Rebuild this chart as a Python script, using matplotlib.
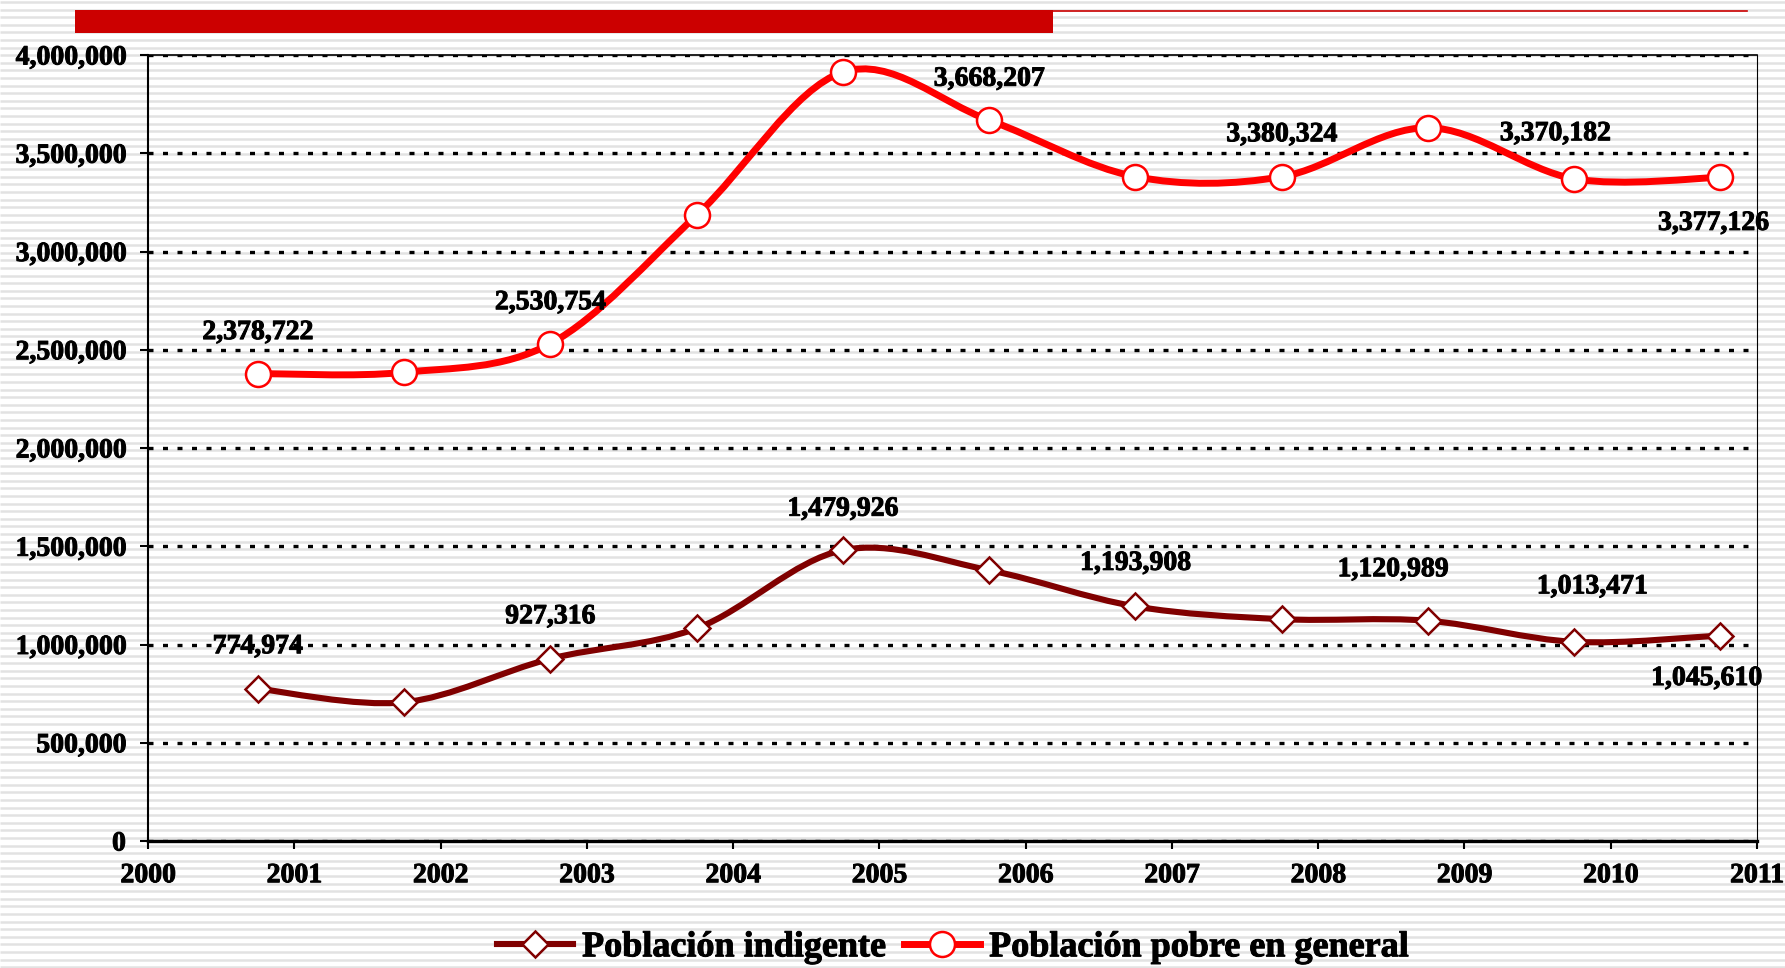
import matplotlib
matplotlib.use("Agg")
import matplotlib.pyplot as plt
import matplotlib.patheffects as pe
import numpy as np
from matplotlib.path import Path
from matplotlib.patches import PathPatch, Rectangle
from matplotlib.lines import Line2D
from matplotlib.ticker import FuncFormatter

years = [2000.75, 2001.75, 2002.75, 2003.75, 2004.75, 2005.75,
         2006.75, 2007.75, 2008.75, 2009.75, 2010.75]
pobre = [2378722, 2385000, 2530754, 3184000, 3913000, 3668207,
         3381000, 3380324, 3630000, 3370182, 3377126]
indigente = [774974, 706000, 927316, 1082000, 1479926, 1378000,
             1193908, 1129000, 1120989, 1013471, 1045610]
# (index, text, offset in px) for labelled points
pobre_labels = [(0, "2,378,722", (0, 41)), (2, "2,530,754", (0, 41)),
                (5, "3,668,207", (0, 41)), (7, "3,380,324", (0, 42)),
                (9, "3,370,182", (-19, 45)), (10, "3,377,126", (-7, -46))]
indig_labels = [(0, "774,974", (0, 42)), (2, "927,316", (0, 42)),
                (4, "1,479,926", (0, 41)), (6, "1,193,908", (0, 43)),
                (8, "1,120,989", (-35, 51)), (9, "1,013,471", (18, 55)),
                (10, "1,045,610", (-14, -43))]
legend_names = ["Población indigente", "Población pobre en general"]

RED = "#FF0000"
DARK = "#800000"
FONT = "Liberation Serif"
heavy = [pe.withStroke(linewidth=0.7, foreground='black')]


def smooth_path(xs, ys):
    # excel style smoothed line: cubic bezier through the points
    pts = np.column_stack([xs, ys]).astype(float)
    p = np.vstack([pts[0], pts, pts[-1]])
    verts = [pts[0]]
    codes = [Path.MOVETO]
    for i in range(1, len(p) - 2):
        c1 = p[i] + (p[i + 1] - p[i - 1]) / 6
        c2 = p[i + 1] - (p[i + 2] - p[i]) / 6
        verts += [c1, c2, p[i + 1]]
        codes += [Path.CURVE4] * 3
    return Path(verts, codes)


plt.rcParams['font.family'] = [FONT, 'DejaVu Serif']
plt.rcParams['font.weight'] = 'bold'

fig = plt.figure(figsize=(17.85, 9.68), dpi=100)

# striped background + red header bar
bg = fig.add_axes([0, 0, 1, 1], zorder=-5)
bg.set_xlim(0, 1785)
bg.set_ylim(968, 0)
bg.axis('off')
bg.hlines(np.arange(2, 968, 7.6), 0, 1785, color='#e2e2e2', lw=1.8, zorder=1)
bg.add_patch(Rectangle((75, 10), 978, 23, color='#CC0000', lw=0, zorder=3))
bg.plot([1053, 1747], [10.8, 10.8], color='#CC0000', lw=1.2, zorder=3)

ax = fig.add_axes([148 / 1785, 1 - 841 / 968, (1757 - 148) / 1785, (841 - 55) / 968])
ax.set_facecolor('none')

ax.add_patch(PathPatch(smooth_path(years, indigente), fill=False, edgecolor=DARK,
                       lw=4.4, capstyle='round', joinstyle='round', zorder=3))
ax.add_patch(PathPatch(smooth_path(years, pobre), fill=False, edgecolor=RED,
                       lw=5.0, capstyle='round', joinstyle='round', zorder=3))
ax.plot(years, indigente, linestyle='none', marker='D', ms=13.5, mfc='white',
        mec=DARK, mew=1.8, zorder=4)
ax.plot(years, pobre, linestyle='none', marker='o', ms=18, mfc='white',
        mec=RED, mew=1.8, zorder=4)

for i, txt, off in pobre_labels:
    ax.annotate(txt, (years[i], pobre[i]), xytext=off, textcoords='offset pixels',
                ha='center', va='center', fontsize=20, fontweight='bold', zorder=5,
                path_effects=heavy)
for i, txt, off in indig_labels:
    ax.annotate(txt, (years[i], indigente[i]), xytext=off, textcoords='offset pixels',
                ha='center', va='center', fontsize=20, fontweight='bold', zorder=5,
                path_effects=heavy)

ax.set_xlim(2000, 2011)
ax.set_ylim(0, 4000000)
ax.set_xticks(range(2000, 2012))
ax.set_yticks(range(0, 4000001, 500000))
ax.yaxis.set_major_formatter(FuncFormatter(lambda v, p: f"{int(v):,}"))
ax.yaxis.grid(True, color='black', linestyle=(0, (1.5, 2.85)), lw=2.4)
ax.set_axisbelow(True)
ax.tick_params(axis='both', direction='out', length=6, labelsize=20, pad=10)
ax.tick_params(axis='x', width=1.5)
ax.tick_params(axis='y', width=1.5)
for lab in ax.get_xticklabels() + ax.get_yticklabels():
    lab.set_fontweight('bold')
    lab.set_path_effects(heavy)
ax.spines['left'].set_linewidth(1.5)
ax.spines['bottom'].set_linewidth(2.4)
ax.spines['top'].set_linewidth(1.2)
ax.spines['right'].set_linewidth(0.8)

handles = [
    Line2D([], [], color=DARK, lw=4.4, marker='D', ms=13.5, mfc='white', mec=DARK, mew=1.8),
    Line2D([], [], color=RED, lw=5.0, marker='o', ms=18, mfc='white', mec=RED, mew=1.8),
]
leg = fig.legend(handles, legend_names, loc='center', bbox_to_anchor=(0.534, 0.021), ncol=2,
                 frameon=False, handlelength=2.1, handletextpad=0.25, columnspacing=0.5,
                 prop={'family': FONT, 'weight': 'bold', 'size': 26})
for t in leg.get_texts():
    t.set_path_effects(heavy)

fig.savefig("out.png", dpi=100)
